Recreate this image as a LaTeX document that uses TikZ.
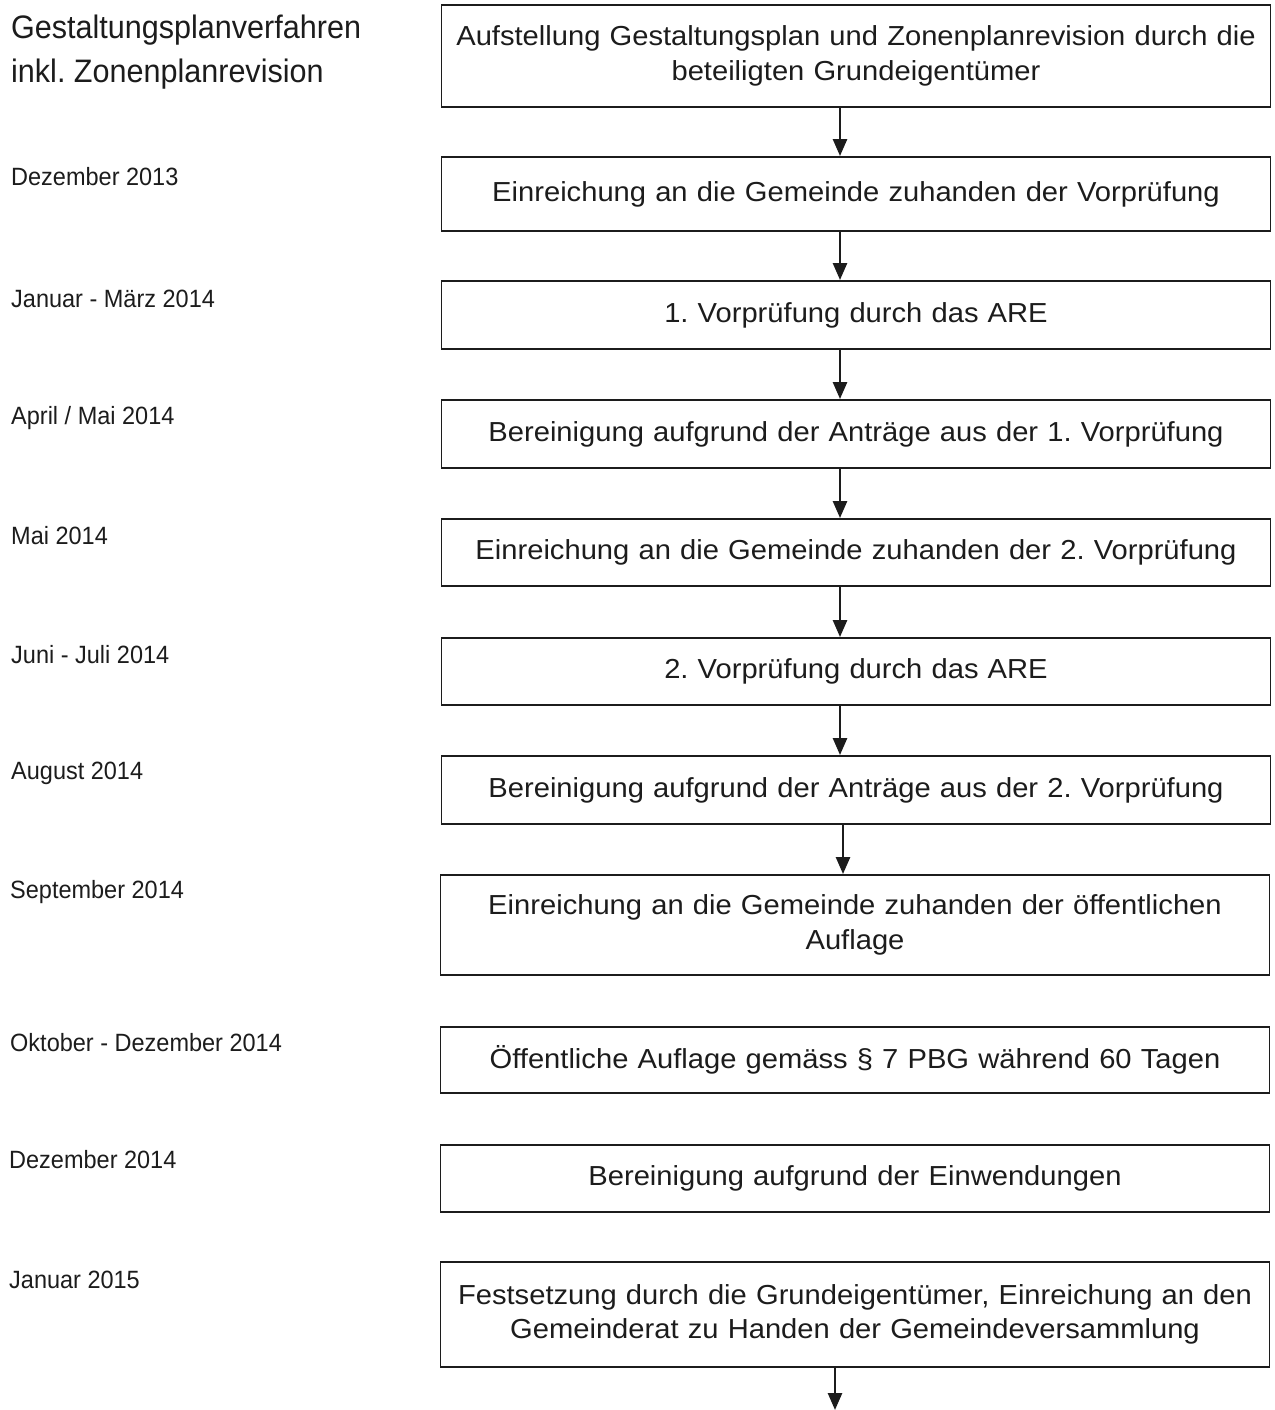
\documentclass[tikz,border=0pt]{standalone}
\usepackage{fontspec}
\setmainfont{Liberation Sans}[FakeStretch=1.06]
\newfontfamily\datefont{Liberation Sans}[FakeStretch=0.94]
\usepackage{xcolor}
\usepackage{tikz}
\usetikzlibrary{arrows.meta}

\definecolor{ink}{HTML}{1C1C1C}
\frenchspacing

\tikzset{
    schritt/.style={draw=ink, line width=1.9pt, minimum width=829pt, text width=815pt,
        align=center, inner sep=0pt, font=\fontsize{27.5}{34.5}\selectfont, text=ink},
    datum/.style={anchor=west, inner sep=0pt, font=\datefont\fontsize{25}{30}\selectfont, text=ink},
    titel/.style={anchor=north west, inner sep=0pt, align=left,
        font=\datefont\fontsize{32.5}{44}\selectfont, text=ink},
    pfeil/.style={draw=ink, line width=2.6pt, -{Triangle[length=17pt,width=14pt]}}
}

\begin{document}
\begin{tikzpicture}[x=1pt, y=-1pt]
    \useasboundingbox (0, 0) rectangle (1274, 1410);
    % title
    \node [titel] (titel) at (11, 15) {Gestaltungsplanverfahren\\inkl.\ Zonenplanrevision};
    % steps
    \node [schritt, minimum height=102pt] (s1) at (856, 56)
        {Aufstellung Gestaltungsplan und Zonenplanrevision durch die\\beteiligten Grundeigentümer};
    \node [schritt, minimum height=74pt] (s2) at (856, 194)
        {Einreichung an die Gemeinde zuhanden der Vorprüfung};
    \node [schritt, minimum height=68pt] (s3) at (856, 315)
        {1. Vorprüfung durch das ARE};
    \node [schritt, minimum height=68pt] (s4) at (856, 434)
        {Bereinigung aufgrund der Anträge aus der 1. Vorprüfung};
    \node [schritt, minimum height=67pt] (s5) at (856, 552.5)
        {Einreichung an die Gemeinde zuhanden der 2. Vorprüfung};
    \node [schritt, minimum height=67pt] (s6) at (856, 671.5)
        {2. Vorprüfung durch das ARE};
    \node [schritt, minimum height=68pt] (s7) at (856, 790)
        {Bereinigung aufgrund der Anträge aus der 2. Vorprüfung};
    \node [schritt, minimum height=100pt] (s8) at (855, 925)
        {Einreichung an die Gemeinde zuhanden der öffentlichen\\Auflage};
    \node [schritt, minimum height=66pt] (s9) at (855, 1060)
        {Öffentliche Auflage gemäss § 7 PBG während 60 Tagen};
    \node [schritt, minimum height=67pt] (s10) at (855, 1178.5)
        {Bereinigung aufgrund der Einwendungen};
    \node [schritt, minimum height=105pt] (s11) at (855, 1314.5)
        {Festsetzung durch die Grundeigentümer, Einreichung an den\\Gemeinderat zu Handen der Gemeindeversammlung};
    % dates
    \node [datum] (d2) at (11, 177) {Dezember 2013};
    \node [datum] (d3) at (11, 299) {Januar - März 2014};
    \node [datum] (d4) at (11, 418) {April / Mai 2014};
    \node [datum] (d5) at (11, 536) {Mai 2014};
    \node [datum] (d6) at (11, 655) {Juni - Juli 2014};
    \node [datum] (d7) at (11, 773) {August 2014};
    \node [datum] (d8) at (10, 892) {September 2014};
    \node [datum] (d9) at (10, 1043) {Oktober - Dezember 2014};
    \node [datum] (d10) at (9, 1160) {Dezember 2014};
    \node [datum] (d11) at (9, 1280) {Januar 2015};
    % arrows
    \foreach \a/\b in {s1/s2, s2/s3, s3/s4, s4/s5, s5/s6, s6/s7}
        \draw [pfeil] ([xshift=-16pt]\a.south) -- ([xshift=-16pt]\b.north);
    \draw [pfeil] ([xshift=-13pt]s7.south) -- ([xshift=-12pt]s8.north);
    \coordinate (ende) at (835, 1410);
    \draw [pfeil] ([xshift=-20pt]s11.south) -- (ende);
\end{tikzpicture}
\end{document}
